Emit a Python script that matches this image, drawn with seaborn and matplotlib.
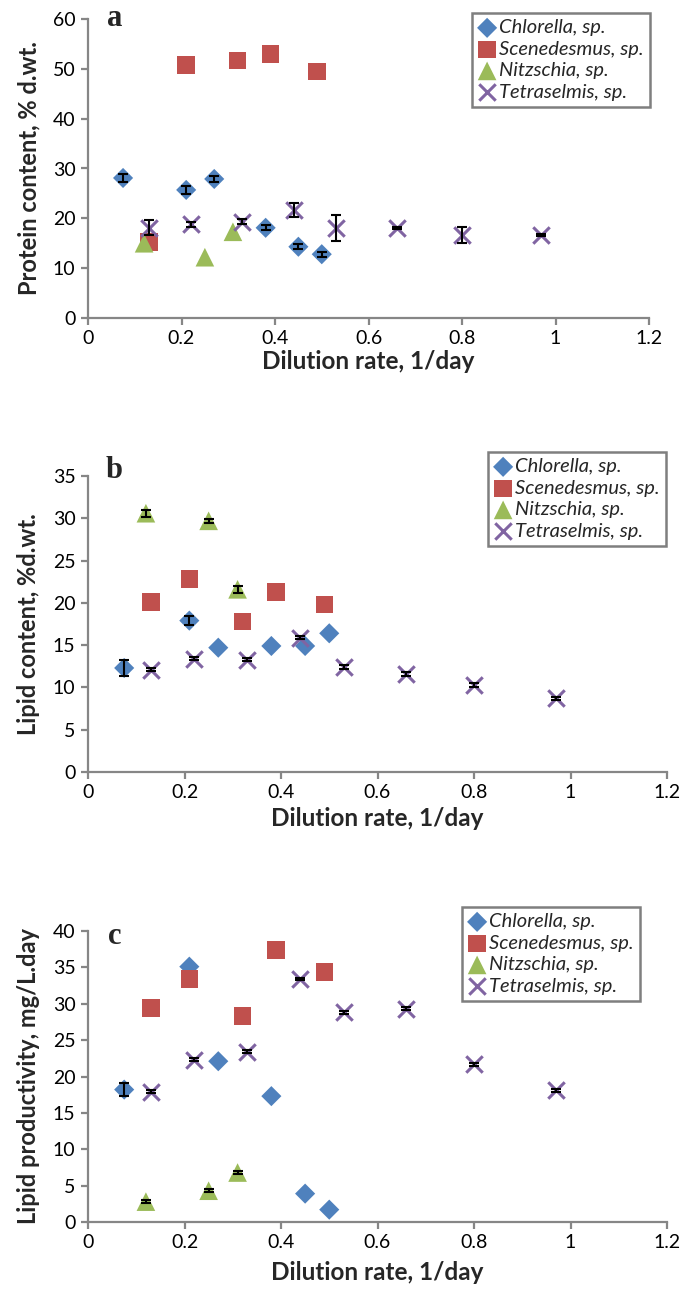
import numpy as np
import pandas as pd
import matplotlib
matplotlib.use("Agg")
import matplotlib.pyplot as plt
import seaborn as sns

sns.set_theme(style="white")
plt.rcParams['font.family'] = ['Lato', 'DejaVu Sans']

species = ["Chlorella, sp.", "Scenedesmus, sp.", "Nitzschia, sp.", "Tetraselmis, sp."]

# Dilution rates (1/day)
x_chlorella = [0.075, 0.21, 0.27, 0.38, 0.45, 0.50]
x_scenedesmus = [0.13, 0.21, 0.32, 0.39, 0.49]
x_nitzschia = [0.12, 0.25, 0.31]
x_tetraselmis = [0.13, 0.22, 0.33, 0.44, 0.53, 0.66, 0.80, 0.97]

# (a) Protein content, % d.wt.
protein_chlorella = [28.1, 25.7, 27.9, 18.1, 14.3, 12.8]
protein_scenedesmus = [15.3, 50.8, 51.7, 53.0, 49.5]
protein_nitzschia = [15.0, 12.2, 17.3]
protein_tetraselmis = [18.1, 18.8, 19.3, 21.7, 18.1, 18.1, 16.7, 16.7]
protein_err_chlorella = [0.8, 0.8, 0.6, 0.5, 0.5, 0.5]
protein_err_scenedesmus = [0, 0, 0, 0, 0]
protein_err_nitzschia = [0, 0, 0]
protein_err_tetraselmis = [1.5, 0.5, 0.5, 1.4, 2.6, 0.2, 1.6, 0.2]

# (b) Lipid content, % d.wt.
lipid_chlorella = [12.3, 17.9, 14.7, 14.9, 14.9, 16.4]
lipid_scenedesmus = [20.1, 22.8, 17.8, 21.3, 19.8]
lipid_nitzschia = [30.6, 29.7, 21.6]
lipid_tetraselmis = [12.1, 13.4, 13.3, 15.9, 12.4, 11.6, 10.3, 8.7]
lipid_err_chlorella = [1.0, 0.5, 0, 0, 0, 0]
lipid_err_scenedesmus = [0, 0, 0, 0, 0]
lipid_err_nitzschia = [0.4, 0.2, 0.4]
lipid_err_tetraselmis = [0.2, 0.2, 0.2, 0.2, 0.2, 0.2, 0.2, 0.2]

# (c) Lipid productivity, mg/L.day
prod_chlorella = [18.2, 35.1, 22.1, 17.3, 3.9, 1.7]
prod_scenedesmus = [29.4, 33.4, 28.3, 37.4, 34.4]
prod_nitzschia = [2.8, 4.3, 6.8]
prod_tetraselmis = [17.9, 22.3, 23.4, 33.4, 28.8, 29.3, 21.7, 18.1]
prod_err_chlorella = [0.9, 0, 0, 0, 0, 0]
prod_err_scenedesmus = [0, 0, 0, 0, 0]
prod_err_nitzschia = [0.2, 0.2, 0.2]
prod_err_tetraselmis = [0.2, 0.2, 0.2, 0.2, 0.2, 0.2, 0.2, 0.2]

x_ticks = [0, 0.2, 0.4, 0.6, 0.8, 1, 1.2]
x_ticklabels = ["0", "0.2", "0.4", "0.6", "0.8", "1", "1.2"]

colors = {"Chlorella, sp.": "#4F81BD", "Scenedesmus, sp.": "#C0504D",
          "Nitzschia, sp.": "#9BBB59", "Tetraselmis, sp.": "#8064A2"}
markers = {"Chlorella, sp.": "D", "Scenedesmus, sp.": "s",
           "Nitzschia, sp.": "^", "Tetraselmis, sp.": "x"}
msizes = {"Chlorella, sp.": 105, "Scenedesmus, sp.": 160,
          "Nitzschia, sp.": 180, "Tetraselmis, sp.": 140}

xs = [x_chlorella, x_scenedesmus, x_nitzschia, x_tetraselmis]

panels = [
    dict(vals=[protein_chlorella, protein_scenedesmus, protein_nitzschia, protein_tetraselmis],
         errs=[protein_err_chlorella, protein_err_scenedesmus, protein_err_nitzschia, protein_err_tetraselmis],
         ylabel="Protein content, % d.wt.", ylim=(0, 60), ystep=10, letter="a",
         rect_px=(88, 19, 649, 318), legend_px=(472, 13, 659, 109), letter_px=(107, 19),
         xpad=2),
    dict(vals=[lipid_chlorella, lipid_scenedesmus, lipid_nitzschia, lipid_tetraselmis],
         errs=[lipid_err_chlorella, lipid_err_scenedesmus, lipid_err_nitzschia, lipid_err_tetraselmis],
         ylabel="Lipid content, %d.wt.", ylim=(0, 35), ystep=5, letter="b",
         rect_px=(88, 476, 667, 772), legend_px=(488, 452, 678, 546), letter_px=(106, 471),
         xpad=4),
    dict(vals=[prod_chlorella, prod_scenedesmus, prod_nitzschia, prod_tetraselmis],
         errs=[prod_err_chlorella, prod_err_scenedesmus, prod_err_nitzschia, prod_err_tetraselmis],
         ylabel="Lipid productivity, mg/L.day", ylim=(0, 40), ystep=5, letter="c",
         rect_px=(88, 931, 667, 1222), legend_px=(462, 907, 658, 1006), letter_px=(108, 937),
         xpad=7),
]

W, H = 685, 1302
fig = plt.figure(figsize=(W / 100, H / 100), dpi=100)
axis_gray = "#868686"

for p in panels:
    l, t, r, b = p["rect_px"]
    ax = fig.add_axes([l / W, 1 - b / H, (r - l) / W, (b - t) / H])
    for sp, xv, yv, ev in zip(species, xs, p["vals"], p["errs"]):
        df = pd.DataFrame({"x": xv, "y": yv})
        if markers[sp] == "x":
            sns.scatterplot(data=df, x="x", y="y", ax=ax, marker="x", s=msizes[sp],
                            color=colors[sp], linewidth=2.2, label=sp, zorder=3)
        else:
            sns.scatterplot(data=df, x="x", y="y", ax=ax, marker=markers[sp], s=msizes[sp],
                            color=colors[sp], edgecolor="none", linewidth=0, label=sp, zorder=3)
        ev = np.array(ev, dtype=float)
        m = ev > 0
        if m.any():
            ax.errorbar(np.array(xv)[m], np.array(yv)[m], yerr=ev[m], fmt="none",
                        ecolor="black", elinewidth=1.5, capsize=3.5, capthick=1.5, zorder=4)
    ax.set_xlim(0, 1.2)
    ax.set_ylim(*p["ylim"])
    ax.set_xticks(x_ticks)
    ax.set_xticklabels(x_ticklabels)
    ax.set_yticks(np.arange(p["ylim"][0], p["ylim"][1] + 0.1, p["ystep"]))
    for s in ["top", "right"]:
        ax.spines[s].set_visible(False)
    for s in ["left", "bottom"]:
        ax.spines[s].set_color(axis_gray)
        ax.spines[s].set_linewidth(1.6)
    ax.tick_params(axis="both", which="major", direction="out", length=5, width=1.6,
                   color=axis_gray, labelsize=14, labelcolor="black", pad=4,
                   bottom=True, left=True)
    ax.set_xlabel("Dilution rate, 1/day", fontsize=17.5, fontweight="bold", labelpad=p["xpad"])
    ax.set_ylabel(p["ylabel"], fontsize=17, fontweight="bold", labelpad=9)
    ax.grid(False)
    ax.patch.set_alpha(0)

    lx, ly = p["letter_px"]
    fig.text(lx / W, 1 - ly / H, p["letter"], fontsize=22, fontweight="bold",
             family=["Liberation Serif", "DejaVu Serif"], ha="left", va="center")

    ll, lt, lr, lb = p["legend_px"]
    leg = ax.legend(loc="upper left", bbox_to_anchor=(ll / W, 1 - lt / H),
                    bbox_transform=fig.transFigure, frameon=True, fancybox=False,
                    shadow=False, borderpad=0.3, labelspacing=0.22, handlelength=0.9,
                    handletextpad=0.15, borderaxespad=0, prop={"style": "italic", "size": 14.5})
    leg.get_frame().set_edgecolor("#7f7f7f")
    leg.get_frame().set_linewidth(1.8)
    leg.get_frame().set_facecolor("white")
    leg.get_frame().set_alpha(1)

fig.savefig("out.png", dpi=100)
